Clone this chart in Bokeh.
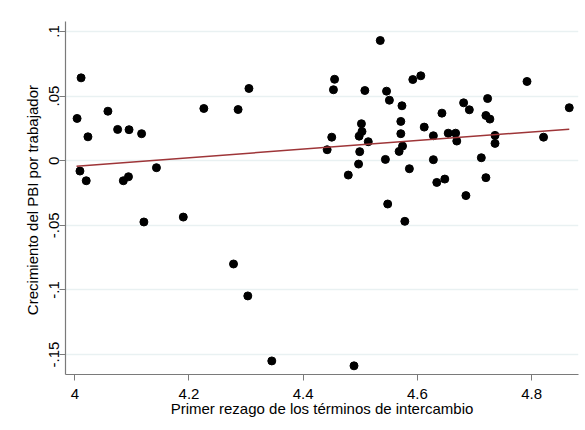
from bokeh.plotting import figure
from bokeh.models import Range1d, FixedTicker
from bokeh.embed import file_html
from bokeh.resources import INLINE

# Data
terms_lag = [4.004, 4.011, 4.009, 4.020, 4.023, 4.058, 4.075, 4.085, 4.094, 4.095,
             4.117, 4.121, 4.143, 4.190, 4.226, 4.278, 4.286, 4.303, 4.305, 4.345,
             4.442, 4.450, 4.453, 4.455, 4.479, 4.489, 4.497, 4.498, 4.499, 4.502,
             4.503, 4.508, 4.514, 4.535, 4.544, 4.546, 4.548, 4.551, 4.568, 4.571,
             4.571, 4.573, 4.574, 4.578, 4.586, 4.592, 4.606, 4.612, 4.628, 4.628,
             4.634, 4.643, 4.648, 4.654, 4.667, 4.669, 4.681, 4.685, 4.691, 4.712,
             4.720, 4.720, 4.723, 4.727, 4.736, 4.736, 4.792, 4.821, 4.866]
growth = [0.0327, 0.0641, -0.0080, -0.0155, 0.0185, 0.0383, 0.0242, -0.0155, -0.0124, 0.0240,
          0.0209, -0.0474, -0.0054, -0.0436, 0.0404, -0.0799, 0.0396, -0.1046, 0.0559, -0.1549,
          0.0085, 0.0182, 0.0549, 0.0630, -0.0111, -0.1587, -0.0026, 0.0190, 0.0070, 0.0286,
          0.0226, 0.0543, 0.0147, 0.0930, 0.0010, 0.0538, -0.0335, 0.0468, 0.0072, 0.0304,
          0.0209, 0.0425, 0.0113, -0.0469, -0.0062, 0.0628, 0.0657, 0.0260, 0.0193, 0.0008,
          -0.0168, 0.0368, -0.0142, 0.0213, 0.0213, 0.0152, 0.0448, -0.0270, 0.0394, 0.0023,
          0.0350, -0.0131, 0.0481, 0.0322, 0.0196, 0.0134, 0.0613, 0.0182, 0.0410]

fit_x = [4.003, 4.866]
fit_y = [-0.0042, 0.0244]

xtick_vals = [4.0, 4.2, 4.4, 4.6, 4.8]
xtick_labels = ["4", "4.2", "4.4", "4.6", "4.8"]
ytick_vals = [-0.15, -0.1, -0.05, 0.0, 0.05, 0.1]
ytick_labels = ["-.15", "-.1", "-.05", "0", ".05", ".1"]

FONT = "Liberation Sans"

p = figure(width=585, height=430, output_backend="svg", toolbar_location=None,
           x_range=Range1d(3.9837, 4.8822), y_range=Range1d(-0.1654, 0.1077),
           min_border_left=65, min_border_right=7, min_border_top=21, min_border_bottom=56)

p.outline_line_color = None
p.background_fill_color = "white"
p.border_fill_color = "white"

p.xgrid.grid_line_color = None
p.ygrid.grid_line_color = "#e9f1f2"
p.ygrid.grid_line_width = 1.5

p.xaxis.ticker = FixedTicker(ticks=xtick_vals)
p.yaxis.ticker = FixedTicker(ticks=ytick_vals)
p.xaxis.major_label_overrides = {v: l for v, l in zip(xtick_vals, xtick_labels)}
p.yaxis.major_label_overrides = {v: l for v, l in zip(ytick_vals, ytick_labels)}

for ax in (p.xaxis[0], p.yaxis[0]):
    ax.axis_line_color = "#7a7a7a"
    ax.axis_line_width = 1.2
    ax.major_tick_line_color = "#7a7a7a"
    ax.major_tick_in = 0
    ax.major_tick_out = 6
    ax.minor_tick_line_color = None
    ax.major_label_text_font = FONT
    ax.major_label_text_font_size = "15px"
    ax.major_label_text_color = "black"
    ax.axis_label_text_font = FONT
    ax.axis_label_text_font_size = "15px"
    ax.axis_label_text_font_style = "normal"
    ax.axis_label_text_color = "black"

p.yaxis.major_label_orientation = "vertical"
p.xaxis.axis_label = "Primer rezago de los términos de intercambio"
p.yaxis.axis_label = "Crecimiento del  PBI por trabajador"
p.xaxis.major_label_standoff = 8
p.xaxis.axis_label_standoff = -2
p.yaxis.major_label_standoff = 0
p.yaxis.axis_label_standoff = 6

p.scatter(terms_lag, growth, size=8, fill_color="black", line_color="black")
p.line(fit_x, fit_y, line_color="#9e3538", line_width=1.5)

open("out.html", "w").write(file_html(p, INLINE))
